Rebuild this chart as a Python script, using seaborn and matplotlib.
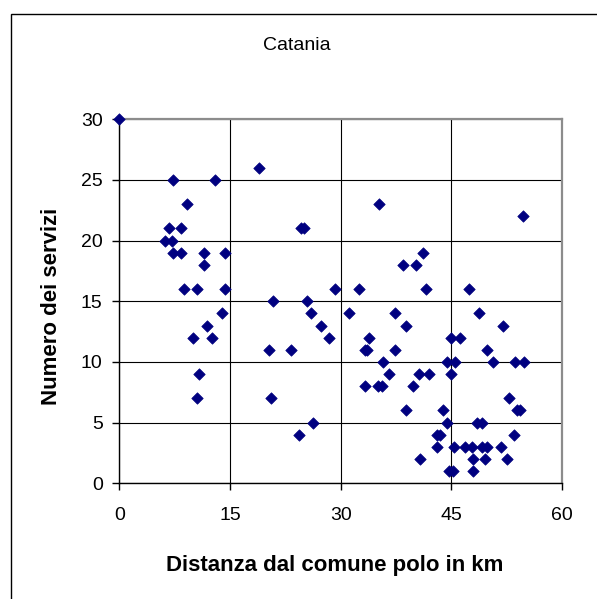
import matplotlib
matplotlib.use("Agg")
import matplotlib.pyplot as plt
from matplotlib.patches import Rectangle
import pandas as pd
import seaborn as sns

# distance to the pole municipality (km) and number of services
distanza = [
    0.0,
    18.9,
    7.3, 13.0,
    9.2, 35.2,
    54.7,
    6.8, 8.4, 24.65, 25.0,
    6.2, 7.1,
    7.3, 8.4, 11.45, 14.35, 41.2,
    11.45, 38.5, 40.2,
    8.75, 10.55, 14.35, 29.3, 32.5, 41.5, 47.4,
    20.85, 25.45,
    13.9, 26.0, 31.1, 37.4, 48.8,
    11.9, 27.35, 38.8, 52.0,
    10.0, 12.55, 28.45, 33.9, 44.9, 46.2,
    20.35, 23.3, 33.3, 33.6, 37.4, 49.9,
    35.8, 44.4, 45.5, 50.7, 53.6, 54.8,
    10.85, 36.6, 40.6, 42.0, 45.0,
    33.3, 35.1, 35.6, 39.8,
    10.55, 20.6, 52.8,
    38.8, 43.9, 53.9, 54.3,
    26.3, 44.4, 48.5, 49.1,
    24.4, 43.1, 43.5, 53.5,
    43.1, 45.4, 46.9, 47.8, 49.1, 49.8, 51.8,
    40.7, 48.0, 49.6, 52.6,
    44.7, 45.2, 48.0,
]
servizi = [
    30,
    26,
    25, 25,
    23, 23,
    22,
    21, 21, 21, 21,
    20, 20,
    19, 19, 19, 19, 19,
    18, 18, 18,
    16, 16, 16, 16, 16, 16, 16,
    15, 15,
    14, 14, 14, 14, 14,
    13, 13, 13, 13,
    12, 12, 12, 12, 12, 12,
    11, 11, 11, 11, 11, 11,
    10, 10, 10, 10, 10, 10,
    9, 9, 9, 9, 9,
    8, 8, 8, 8,
    7, 7, 7,
    6, 6, 6, 6,
    5, 5, 5, 5,
    4, 4, 4, 4,
    3, 3, 3, 3, 3, 3, 3,
    2, 2, 2, 2,
    1, 1, 1,
]
x_ticks = [0, 15, 30, 45, 60]
y_ticks = [0, 5, 10, 15, 20, 25, 30]

df = pd.DataFrame({"distanza": distanza, "servizi": servizi})

sns.set_style("white")
plt.rcParams["font.family"] = ["Liberation Sans", "DejaVu Sans"]
plt.rcParams.update({"text.color": "black", "axes.labelcolor": "black",
                     "xtick.color": "black", "ytick.color": "black"})

fig = plt.figure(figsize=(5.97, 5.99), dpi=100)
ax = fig.add_axes([119.3 / 597, 1 - 483.3 / 599, 442.7 / 597, 364 / 599])

sns.scatterplot(data=df, x="distanza", y="servizi", ax=ax, marker="D",
                color="#000080", edgecolor="#000080", linewidth=0.5, s=34,
                zorder=3, legend=False)
ax.collections[0].set_clip_on(False)

ax.set_xlim(0, 60)
ax.set_ylim(0, 30)
ax.set_xticks(x_ticks)
ax.set_yticks(y_ticks)
ax.grid(True, color="black", linewidth=0.8)
ax.set_axisbelow(True)

for side in ["left", "bottom"]:
    ax.spines[side].set_color("black")
    ax.spines[side].set_linewidth(1.0)
for side in ["top", "right"]:
    ax.spines[side].set_color("#8c8c8c")
    ax.spines[side].set_linewidth(1.6)
    ax.spines[side].set_zorder(2.5)

ax.tick_params(axis="both", direction="out", length=5, width=1, color="black",
               labelsize=14, bottom=True, left=True)
ax.tick_params(axis="x", pad=12)
ax.tick_params(axis="y", pad=7)

ax.set_xlabel("Distanza dal comune polo in km", fontsize=16, fontweight="bold")
ax.set_ylabel("Numero dei servizi", fontsize=16, fontweight="bold")
ax.xaxis.set_label_coords((334.5 - 119.3) / 442.7, (483.3 - 566) / 364)
ax.xaxis.label.set_va("center")
ax.yaxis.set_label_coords((52 - 119.3) / 442.7, 0.487)
ax.yaxis.label.set_va("center")

fig.text(297 / 597, 1 - 46 / 599, "Catania", ha="center", va="center", fontsize=14)

# outer chart border (runs off the right and bottom edges)
fig.patches.append(Rectangle((10.5 / 597, -0.1), 1.2, 1.1 - 14 / 599,
                             transform=fig.transFigure, fill=False,
                             edgecolor="black", linewidth=1.0))

plt.savefig("out.png", dpi=100)
plt.close()
